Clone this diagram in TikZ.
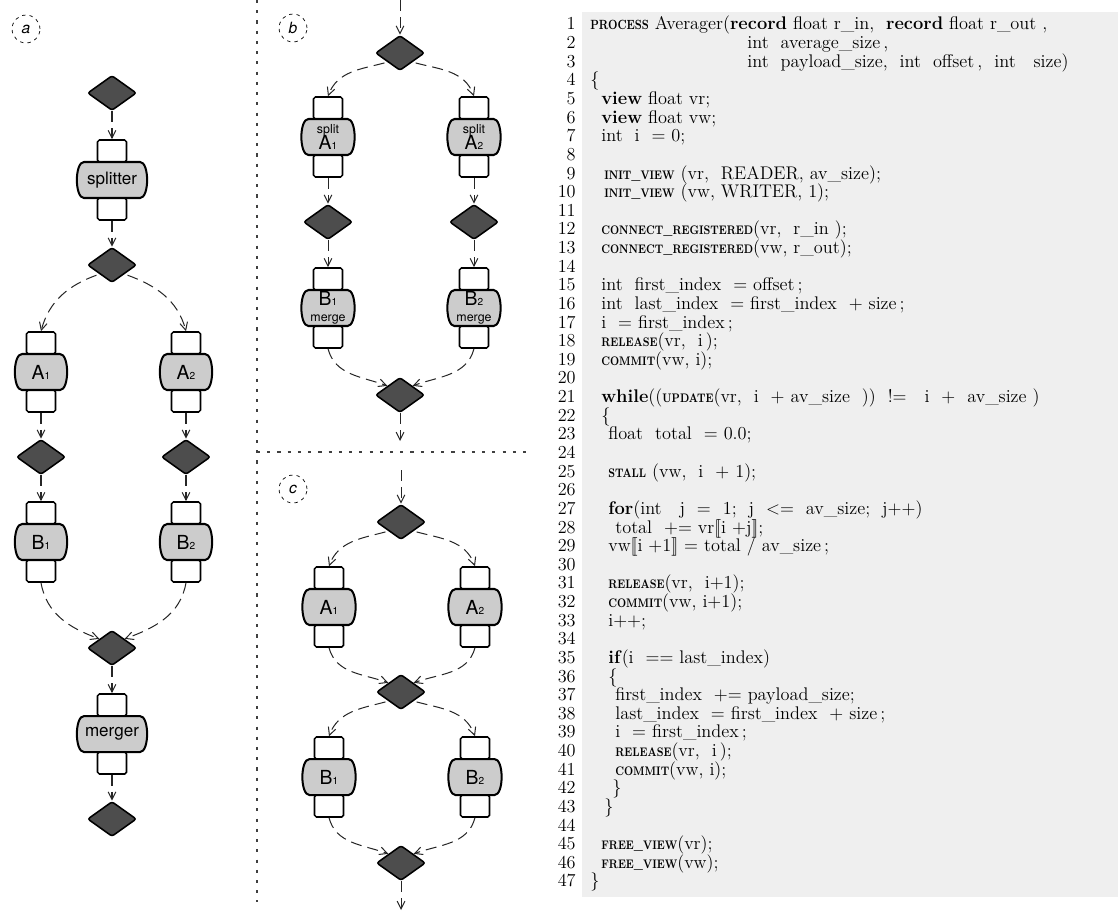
\documentclass[tikz,border=0pt]{standalone}
\usepackage{fontspec}
\usepackage{graphicx}
\setmainfont{Latin Modern Roman}
\newfontfamily\diafont{TeX Gyre Heros}
\usetikzlibrary{shapes.geometric,arrows.meta}
\definecolor{codebg}{RGB}{239,239,239}
\definecolor{bodygray}{RGB}{204,204,204}
\definecolor{dmdgray}{RGB}{77,77,77}
% keywords of the stream language: narrow bold capitals
\newcommand\kw[1]{\scalebox{0.8}[1]{\bfseries\fontsize{8}{9}\selectfont #1}}
\newcommand\kwbig[1]{\scalebox{0.8}[1]{\bfseries\fontsize{8.6}{9}\selectfont #1}}
\newcommand\sub[1]{{\fontsize{6.5}{7}\selectfont #1}}
\newcommand\lbb{[\kern-.17em[}
\newcommand\rbb{]\kern-.17em]}
% a filter: input port, body, output port
\newcommand\proc[5]{%
  \node[port] (#1-in) at (#2,#3-29) {};
  \node[port] (#1-out) at (#2,#3+29) {};
  \path[bodyshape] (#2-#4+7,#3-18) -- (#2+#4-7,#3-18)
     .. controls (#2+#4+2.5,#3-18) and (#2+#4+2.5,#3+18) .. (#2+#4-7,#3+18)
     -- (#2-#4+7,#3+18)
     .. controls (#2-#4-2.5,#3+18) and (#2-#4-2.5,#3-18) .. (#2-#4+7,#3-18) -- cycle;
  \node[bodytext] (#1) at (#2,#3) {#5};
}
% one line of the listing
\newcommand\cl[3]{\node[code] (c#1) at (#2,{30+(#1-1)*18.63}) {#3};}
\begin{document}
\begin{tikzpicture}[x=0.645pt,y=-0.645pt,
  dmd/.style={shape=diamond,draw,fill=dmdgray,line width=1pt,inner sep=0pt,
    minimum width=31.6pt,minimum height=22.6pt,rounded corners=1.5pt},
  port/.style={rectangle,draw,fill=white,line width=1pt,rounded corners=1.2pt,
    minimum width=18.7pt,minimum height=14.2pt,inner sep=0pt},
  bodyshape/.style={draw,fill=bodygray,line width=1.3pt},
  bodytext/.style={inner sep=0pt,font=\diafont\fontsize{12.5}{13}\selectfont},
  wordtext/.style={inner sep=0pt,font=\diafont\fontsize{11}{12}\selectfont},
  conn/.style={draw=black!85,line width=0.65pt,dash pattern=on 7.1pt off 3.9pt,
    -{Straight Barb[length=5pt,width=5pt]}},
  tag/.style={circle,draw,line width=0.45pt,dash pattern=on 2.2pt off 2.6pt,
    minimum size=18pt,inner sep=0pt,font=\diafont\itshape\fontsize{10}{10}\selectfont},
  sep/.style={draw=black!75,line width=0.8pt,dash pattern=on 2pt off 4.6pt},
  code/.style={anchor=base west,inner sep=0pt,font=\fontsize{11.8}{12}\selectfont},
  num/.style={anchor=base east,inner sep=0pt,font=\fontsize{11.8}{12}\selectfont}]
\useasboundingbox (0,0) rectangle (1118,914);

% separators between the three variants
\draw[sep] (257,0) -- (257,902);
\draw[sep] (257,452) -- (528,452);

% ---------- (a) splitter / merger ----------
\node[tag] (taga) at (26,29) {a};
\node[dmd] (a-d1) at (112,93) {};
\proc{a-sp}{112}{180}{35}{}
\node[wordtext] at (a-sp) {splitter};
\node[dmd] (a-d2) at (112,265) {};
\proc{a-a1}{41}{372}{26}{A\sub{1}}
\proc{a-a2}{186}{372}{26}{A\sub{2}}
\node[dmd] (a-d3) at (41,457) {};
\node[dmd] (a-d4) at (186,457) {};
\proc{a-b1}{41}{542}{26}{B\sub{1}}
\proc{a-b2}{186}{542}{26}{B\sub{2}}
\node[dmd] (a-d5) at (112,648) {};
\proc{a-mg}{112}{734}{35}{}
\node[wordtext] at (a-mg) {merger};
\node[dmd] (a-d6) at (112,819) {};

\draw[conn] (a-d1.south) -- (a-sp-in.north);
\draw[conn] (a-sp-out.south) -- (a-d2.north);
\draw[conn,shorten <=2pt] (a-d2.south west) to[out=200,in=75] (a-a1-in.north);
\draw[conn,shorten <=2pt] (a-d2.south east) to[out=-20,in=105] (a-a2-in.north);
\draw[conn] (a-a1-out.south) -- (a-d3.north);
\draw[conn] (a-a2-out.south) -- (a-d4.north);
\draw[conn] (a-d3.south) -- (a-b1-in.north);
\draw[conn] (a-d4.south) -- (a-b2-in.north);
\draw[conn] (a-b1-out.south) to[out=-80,in=160] (a-d5.north west);
\draw[conn] (a-b2-out.south) to[out=-100,in=20] (a-d5.north east);
\draw[conn] (a-d5.south) -- (a-mg-in.north);
\draw[conn] (a-mg-out.south) -- (a-d6.north);

% ---------- (b) split and merge inside the filters ----------
\node[tag] (tagb) at (293,28) {b};
\coordinate (b-top) at (400,0);
\node[dmd] (b-d1) at (400,53) {};
\proc{b-a1}{328}{137}{26.5}{}
\proc{b-a2}{474}{137}{26.5}{}
\node[align=center,inner sep=0pt] at (b-a1) {{\diafont\fontsize{8}{8}\selectfont split}\\[-1.5pt]{\diafont\fontsize{12.5}{12}\selectfont A\sub{1}}};
\node[align=center,inner sep=0pt] at (b-a2) {{\diafont\fontsize{8}{8}\selectfont split}\\[-1.5pt]{\diafont\fontsize{12.5}{12}\selectfont A\sub{2}}};
\node[dmd] (b-d2) at (328,222) {};
\node[dmd] (b-d3) at (474,222) {};
\proc{b-b1}{328}{308}{26.5}{}
\proc{b-b2}{474}{308}{26.5}{}
\node[align=center,inner sep=0pt] at (b-b1) {{\diafont\fontsize{12.5}{12}\selectfont B\sub{1}}\\[-2pt]{\diafont\fontsize{8}{8}\selectfont merge}};
\node[align=center,inner sep=0pt] at (b-b2) {{\diafont\fontsize{12.5}{12}\selectfont B\sub{2}}\\[-2pt]{\diafont\fontsize{8}{8}\selectfont merge}};
\node[dmd] (b-d4) at (400,395) {};
\coordinate (b-bot) at (400,441);

\draw[conn] (b-top) -- (b-d1.north);
\draw[conn,shorten <=2pt] (b-d1.south west) to[out=195,in=70] (b-a1-in.north);
\draw[conn,shorten <=2pt] (b-d1.south east) to[out=-15,in=110] (b-a2-in.north);
\draw[conn] (b-a1-out.south) -- (b-d2.north);
\draw[conn] (b-a2-out.south) -- (b-d3.north);
\draw[conn] (b-d2.south) -- (b-b1-in.north);
\draw[conn] (b-d3.south) -- (b-b2-in.north);
\draw[conn] (b-b1-out.south) to[out=-75,in=160] (b-d4.north west);
\draw[conn] (b-b2-out.south) to[out=-105,in=20] (b-d4.north east);
\draw[conn] (b-d4.south) -- (b-bot);

% ---------- (c) two stages of data parallelism ----------
\node[tag] (tagc) at (293,489) {c};
\coordinate (c-top) at (401,470);
\node[dmd] (c-d1) at (401,522) {};
\proc{c-a1}{329}{607}{26.5}{A\sub{1}}
\proc{c-a2}{475}{607}{26.5}{A\sub{2}}
\node[dmd] (c-d2) at (401,692) {};
\proc{c-b1}{329}{777}{26.5}{B\sub{1}}
\proc{c-b2}{475}{777}{26.5}{B\sub{2}}
\node[dmd] (c-d3) at (401,863) {};
\coordinate (c-bot) at (401,910);

\draw[conn] (c-top) -- (c-d1.north);
\draw[conn,shorten <=2pt] (c-d1.south west) to[out=195,in=70] (c-a1-in.north);
\draw[conn,shorten <=2pt] (c-d1.south east) to[out=-15,in=110] (c-a2-in.north);
\draw[conn] (c-a1-out.south) to[out=-75,in=160] (c-d2.north west);
\draw[conn] (c-a2-out.south) to[out=-105,in=20] (c-d2.north east);
\draw[conn,shorten <=2pt] (c-d2.south west) to[out=195,in=70] (c-b1-in.north);
\draw[conn,shorten <=2pt] (c-d2.south east) to[out=-15,in=110] (c-b2-in.north);
\draw[conn] (c-b1-out.south) to[out=-75,in=160] (c-d3.north west);
\draw[conn] (c-b2-out.south) to[out=-105,in=20] (c-d3.north east);
\draw[conn] (c-d3.south) -- (c-bot);

% ---------- listing of the Averager process ----------
\fill[codebg] (582,12) rectangle (1118,897);
\foreach \n in {1,...,47} \node[num] (n\n) at (576,{30+(\n-1)*18.63}) {\n};
\cl{1}{590}{\kwbig{PROCESS} Averager(\textbf{record} float r\_in, ~\textbf{record} float r\_out ,}
\cl{2}{747}{int~ average\_size\,,}
\cl{3}{747}{int~ payload\_size, ~int~ offset\,, ~int~ ~size)}
\cl{4}{590}{\{}
\cl{5}{601}{\textbf{view} float vr;}
\cl{6}{601}{\textbf{view} float vw;}
\cl{7}{601}{int~ i~ = 0;}
\cl{9}{604}{\kw{INIT\_VIEW} (vr, ~READER, av\_size);}
\cl{10}{604}{\kw{INIT\_VIEW} (vw, WRITER, 1);}
\cl{12}{601}{\kw{CONNECT\_REGISTERED}(vr, ~r\_in );}
\cl{13}{601}{\kw{CONNECT\_REGISTERED}(vw, r\_out);}
\cl{15}{601}{int~ first\_index~ = offset\,;}
\cl{16}{601}{int~ last\_index~ = first\_index~ + size\,;}
\cl{17}{601}{i~ = first\_index\,;}
\cl{18}{601}{\kw{RELEASE}(vr, ~i\,);}
\cl{19}{601}{\kw{COMMIT}(vw, i);}
\cl{21}{601}{\textbf{while}((\kw{UPDATE}(vr, ~i~ + av\_size~ )) ~!=~ ~i~ + ~av\_size )}
\cl{22}{601}{\{}
\cl{23}{608}{float~ total~ = 0.0;}
\cl{25}{608}{\kw{STALL} (vw, ~i~ + 1);}
\cl{27}{608}{\textbf{for}(int~ ~j~ = ~1; ~j~ <= ~av\_size; ~j++)}
\cl{28}{615}{total~ += vr\lbb i~+j\rbb;}
\cl{29}{608}{vw\lbb i~+1\rbb{} = total / av\_size\,;}
\cl{31}{608}{\kw{RELEASE}(vr, ~i+1);}
\cl{32}{608}{\kw{COMMIT}(vw, i+1);}
\cl{33}{608}{i++;}
\cl{35}{608}{\textbf{if}(i~ == last\_index)}
\cl{36}{608}{\{}
\cl{37}{615}{first\_index~ += payload\_size;}
\cl{38}{615}{last\_index~ = first\_index~ + size\,;}
\cl{39}{615}{i~ = first\_index\,;}
\cl{40}{615}{\kw{RELEASE}(vr, ~i\,);}
\cl{41}{615}{\kw{COMMIT}(vw, i);}
\cl{42}{612}{\}}
\cl{43}{604}{\}}
\cl{45}{601}{\kw{FREE\_VIEW}(vr);}
\cl{46}{601}{\kw{FREE\_VIEW}(vw);}
\cl{47}{590}{\}}
\end{tikzpicture}
\end{document}
